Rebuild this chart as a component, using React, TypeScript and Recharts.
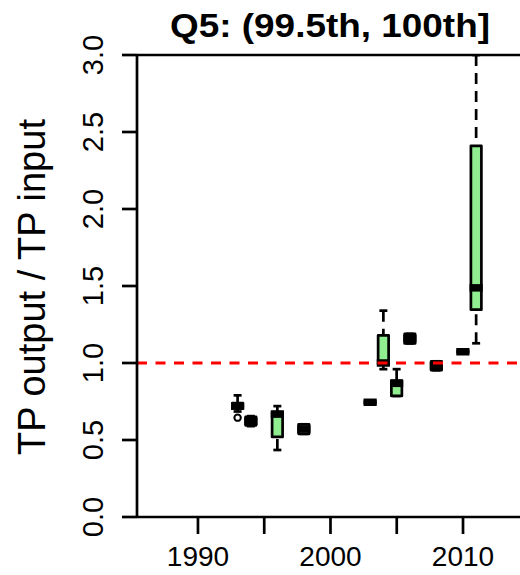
import { ComposedChart, Bar, XAxis, YAxis, ReferenceLine, Customized } from 'recharts';

const FONT = '"Liberation Sans", Arial, Helvetica, sans-serif';

// one box per year (R boxplot stats)
const years = [1993, 1994, 1996, 1998, 2003, 2004, 2005, 2006, 2008, 2010, 2011];
const lowerWhisker = [0.685, 0.59, 0.435, 0.54, 0.737, 0.96, 0.786, 1.127, 0.953, 1.066, 1.128];
const lowerHinge = [0.705, 0.595, 0.52, 0.54, 0.737, 0.99, 0.786, 1.127, 0.953, 1.066, 1.346];
const medians = [0.72, 0.622, 0.668, 0.571, 0.745, 1.0, 0.868, 1.158, 0.982, 1.073, 1.488];
const upperHinge = [0.74, 0.65, 0.682, 0.602, 0.753, 1.18, 0.885, 1.189, 1.011, 1.08, 2.41];
const upperWhisker = [0.79, 0.655, 0.72, 0.602, 0.753, 1.34, 0.96, 1.189, 1.011, 1.08, 3.0];
const outliers = [[0.645], [], [], [], [], [], [], [], [], [], []];

const xTicks = [1990, 1995, 2000, 2005, 2010];
const xTickLabels = ['1990', '', '2000', '', '2010'];
const yTicks = [0, 0.5, 1, 1.5, 2, 2.5, 3];
const yTickLabels = ['0.0', '0.5', '1.0', '1.5', '2.0', '2.5', '3.0'];

const data = years.map((year, i) => ({
  year,
  lo: lowerWhisker[i],
  q1: lowerHinge[i],
  med: medians[i],
  q3: upperHinge[i],
  hi: upperWhisker[i],
  out: outliers[i],
  range: [lowerWhisker[i], upperWhisker[i]],
}));

const LW = 2.7;

function BoxShape(props: any) {
  const { x, y, width, height, payload } = props;
  if (!payload) return null;
  const top = Math.min(y, y + height);
  const span = Math.abs(height);
  const px = span / (payload.hi - payload.lo);
  const toY = (v: number) => top + (payload.hi - v) * px;
  const cx = x + width / 2;
  const bw = 10.5;
  const yq3 = toY(payload.q3);
  const yq1 = toY(payload.q1);
  return (
    <g>
      <line x1={cx} x2={cx} y1={toY(payload.hi)} y2={yq3} stroke="#000" strokeWidth={LW} strokeDasharray="11 7" />
      <line x1={cx} x2={cx} y1={toY(payload.lo)} y2={yq1} stroke="#000" strokeWidth={LW} strokeDasharray="11 7" />
      <line x1={cx - 4} x2={cx + 4} y1={toY(payload.hi)} y2={toY(payload.hi)} stroke="#000" strokeWidth={LW} />
      <line x1={cx - 4} x2={cx + 4} y1={toY(payload.lo)} y2={toY(payload.lo)} stroke="#000" strokeWidth={LW} />
      <rect
        x={cx - bw / 2}
        y={yq3}
        width={bw}
        height={Math.max(yq1 - yq3, 0.1)}
        fill="#90EE90"
        stroke="#000"
        strokeWidth={LW}
        strokeLinejoin="round"
      />
      <line
        x1={cx - bw / 2 - LW / 2}
        x2={cx + bw / 2 + LW / 2}
        y1={toY(payload.med)}
        y2={toY(payload.med)}
        stroke="#000"
        strokeWidth={7.5}
      />
      {payload.out.map((v: number, k: number) => (
        <circle key={k} cx={cx} cy={toY(v)} r={3.2} fill="none" stroke="#000" strokeWidth={2} />
      ))}
    </g>
  );
}

function XTick(props: any) {
  const { x, y, index } = props;
  return (
    <text x={x} y={y + 32} textAnchor="middle" fontSize={28} fontFamily={FONT} fill="#000">
      {xTickLabels[index] ?? ''}
    </text>
  );
}

function YTick(props: any) {
  const { x, y, index } = props;
  return (
    <text
      x={0}
      y={0}
      transform={`translate(${x - 19},${y}) rotate(-90)`}
      textAnchor="middle"
      fontSize={29}
      fontFamily={FONT}
      fill="#000"
    >
      {yTickLabels[index]}
    </text>
  );
}

function Title() {
  return (
    <text
      x={330}
      y={37}
      textAnchor="middle"
      fontSize={33}
      fontWeight="bold"
      fontFamily={FONT}
      fill="#000"
      textLength={320}
      lengthAdjust="spacingAndGlyphs"
    >
      Q5: (99.5th, 100th]
    </text>
  );
}

function YTitle() {
  return (
    <text
      x={0}
      y={0}
      transform="translate(45,287) rotate(-90)"
      textAnchor="middle"
      fontSize={38}
      fontFamily={FONT}
      fill="#000"
    >
      TP output / TP input
    </text>
  );
}

export default function App() {
  return (
    <div style={{ position: 'absolute', left: 0, top: 0, width: 520, height: 575, background: '#fff' }}>
      <ComposedChart width={520} height={575} data={data} margin={{ top: 55, right: 0, bottom: 0, left: 0 }}>
        <XAxis
          dataKey="year"
          type="number"
          domain={[1985.4, 2014.3]}
          allowDataOverflow
          ticks={xTicks}
          interval={0}
          height={58}
          tickSize={17}
          tickMargin={0}
          axisLine={{ stroke: '#000', strokeWidth: LW }}
          tickLine={{ stroke: '#000', strokeWidth: LW }}
          tick={<XTick />}
        />
        <YAxis
          type="number"
          domain={[0, 3]}
          allowDataOverflow
          ticks={yTicks}
          interval={0}
          width={137}
          tickSize={15}
          tickMargin={0}
          axisLine={{ stroke: '#000', strokeWidth: LW }}
          tickLine={{ stroke: '#000', strokeWidth: LW }}
          tick={<YTick />}
        />
        <ReferenceLine y={3} stroke="#000" strokeWidth={LW} />
        <Bar dataKey="range" barSize={11} shape={<BoxShape />} isAnimationActive={false} />
        <ReferenceLine y={1} stroke="#FF0000" strokeWidth={3} strokeDasharray="10 8.5" />
        <Customized component={<Title />} />
        <Customized component={<YTitle />} />
      </ComposedChart>
    </div>
  );
}
